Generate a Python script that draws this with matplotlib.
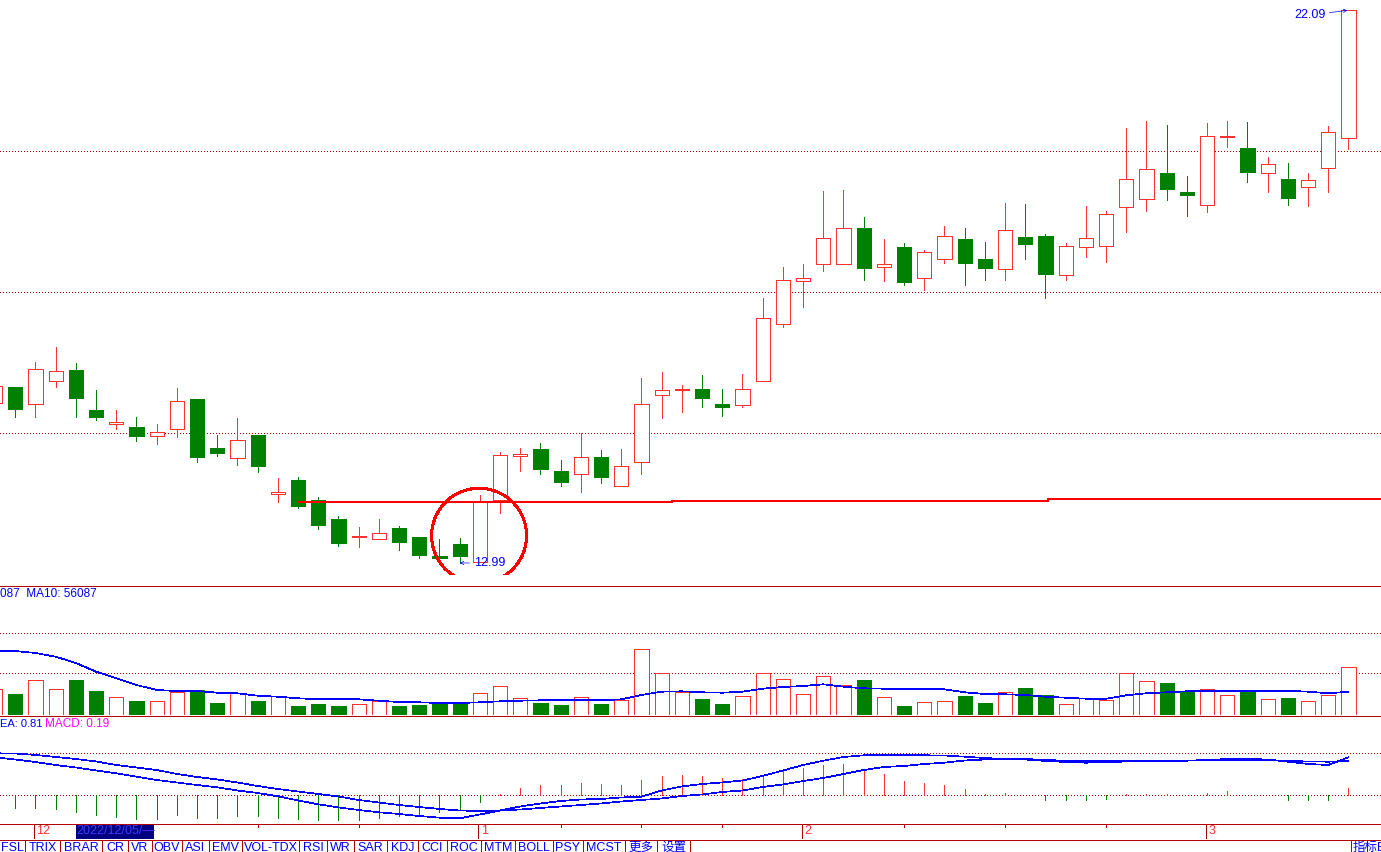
import matplotlib
matplotlib.use('Agg')
import matplotlib.pyplot as plt
from matplotlib.patches import Rectangle, Ellipse
from matplotlib.lines import Line2D

plt.rcParams['font.family'] = ['Liberation Sans', 'Noto Sans CJK SC', 'DejaVu Sans']

# ---- daily bars, 2022/11/29 .. 2023/03/10 ----
open_ = [15.62, 15.89, 15.61, 15.99, 16.17, 15.51, 15.28, 15.23, 15.08, 15.20,
         15.69, 14.88, 14.72, 15.10, 14.13, 14.36, 14.03, 13.71, 13.42, 13.38,
         13.57, 13.42, 13.10, 13.30, 13.01, 14.02, 14.75, 14.87, 14.50, 14.46,
         14.73, 14.26, 14.65, 15.76, 15.84, 15.85, 15.61, 15.59, 15.99, 16.92,
         17.64, 17.91, 17.91, 18.51, 17.87, 18.19, 17.69, 17.99, 18.32, 18.00,
         17.83, 18.36, 18.37, 17.74, 18.20, 18.21, 18.85, 18.99, 19.41, 19.10,
         18.88, 20.00, 19.82, 19.41, 19.31, 19.18, 19.49, 19.98]
high = [16.00, 15.89, 16.30, 16.55, 16.28, 15.84, 15.51, 15.39, 15.28, 15.87,
        15.69, 15.10, 15.38, 15.10, 14.39, 14.41, 14.08, 13.76, 13.58, 13.71,
        13.60, 13.42, 13.38, 13.40, 14.11, 14.82, 14.88, 14.97, 14.69, 15.13,
        14.85, 14.87, 16.04, 16.13, 15.92, 16.09, 15.85, 16.10, 17.35, 17.86,
        17.91, 19.11, 19.13, 18.69, 18.32, 18.26, 18.14, 18.54, 18.51, 18.27,
        18.92, 18.90, 18.41, 18.26, 18.87, 18.79, 20.15, 20.27, 20.20, 19.36,
        20.23, 20.27, 20.25, 19.67, 19.58, 19.41, 20.19, 22.09]
low = [15.54, 15.39, 15.39, 15.89, 15.39, 15.34, 15.20, 15.00, 14.95, 15.06,
       14.65, 14.75, 14.60, 14.49, 13.99, 13.90, 13.55, 13.27, 13.25, 13.38,
       13.20, 13.07, 13.07, 12.99, 13.01, 13.81, 14.50, 14.46, 14.26, 14.16,
       14.31, 14.26, 14.46, 15.38, 15.48, 15.56, 15.41, 15.56, 15.99, 16.88,
       17.21, 17.80, 17.91, 17.65, 17.64, 17.56, 17.49, 17.93, 17.57, 17.65,
       17.65, 18.00, 17.36, 17.65, 18.03, 17.95, 18.44, 18.79, 18.97, 18.71,
       18.77, 19.84, 19.27, 19.10, 18.89, 18.86, 19.10, 19.80]
close = [15.90, 15.53, 16.18, 16.15, 15.71, 15.39, 15.31, 15.08, 15.15, 15.66,
         14.73, 14.80, 15.01, 14.59, 14.16, 13.93, 13.62, 13.32, 13.43, 13.48,
         13.34, 13.12, 13.07, 13.10, 13.99, 14.77, 14.78, 14.54, 14.32, 14.73,
         14.41, 14.59, 15.61, 15.84, 15.85, 15.71, 15.56, 15.85, 17.02, 17.65,
         17.69, 18.34, 18.50, 17.85, 17.92, 17.62, 18.11, 18.37, 17.93, 17.84,
         18.47, 18.25, 17.75, 18.21, 18.34, 18.74, 19.32, 19.47, 19.15, 19.05,
         20.02, 20.02, 19.42, 19.56, 19.00, 19.29, 20.08, 22.09]
volume = [62400, 50400, 83280, 61680, 84000, 57600, 42480, 33600, 32880, 55920,
          60000, 28800, 52080, 33600, 44880, 21600, 26400, 21600, 25680, 33600,
          21600, 24000, 28080, 28080, 52080, 68880, 40080, 28800, 24000, 42480,
          26400, 35280, 157680, 100080, 54480, 38400, 26400, 44880, 100080, 85680,
          49680, 92880, 71280, 84000, 42480, 21600, 30480, 32880, 45600, 28800,
          54480, 64800, 48000, 25680, 40080, 35280, 100080, 80880, 76800, 57600,
          61680, 47280, 57600, 37680, 40800, 32880, 47280, 114480]
vol_ma10 = [154320, 153600, 148800, 139920, 124800, 103920, 88080, 72000, 60000, 57600,
            57600, 53520, 52080, 46320, 43920, 40080, 37680, 37680, 37680, 34320,
            31200, 30480, 28800, 28800, 30480, 32880, 34320, 35280, 35280, 35280,
            35280, 37680, 48000, 55920, 56880, 54480, 53520, 55920, 63120, 67200,
            69600, 73680, 67920, 64080, 63120, 61680, 61680, 61680, 54480, 50400,
            49680, 48000, 43920, 41520, 39120, 39120, 47280, 52080, 54480, 56880,
            58320, 58320, 58320, 58320, 58320, 55920, 52080, 55920]
dif = [0.905, 0.852, 0.793, 0.721, 0.662, 0.590, 0.524, 0.443, 0.364, 0.305,
       0.245, 0.190, 0.114, 0.055, -0.024, -0.124, -0.214, -0.290, -0.350, -0.405,
       -0.445, -0.493, -0.533, -0.548, -0.457, -0.362, -0.267, -0.195, -0.136, -0.100,
       -0.088, -0.052, -0.033, 0.114, 0.210, 0.269, 0.305, 0.352, 0.460, 0.590,
       0.721, 0.824, 0.912, 0.952, 0.952, 0.952, 0.952, 0.948, 0.919, 0.888,
       0.864, 0.852, 0.817, 0.793, 0.776, 0.786, 0.805, 0.824, 0.824, 0.824,
       0.840, 0.864, 0.864, 0.852, 0.800, 0.745, 0.721, 0.905]
dea = [1.000, 0.995, 0.960, 0.912, 0.864, 0.805, 0.721, 0.662, 0.602, 0.507,
       0.436, 0.376, 0.305, 0.221, 0.150, 0.090, 0.031, -0.029, -0.112, -0.171,
       -0.231, -0.279, -0.326, -0.362, -0.374, -0.362, -0.338, -0.302, -0.267, -0.231,
       -0.195, -0.148, -0.112, -0.076, -0.017, 0.019, 0.079, 0.114, 0.198, 0.257,
       0.340, 0.412, 0.507, 0.602, 0.674, 0.698, 0.745, 0.776, 0.829, 0.852,
       0.857, 0.864, 0.840, 0.824, 0.824, 0.824, 0.824, 0.824, 0.824, 0.829,
       0.833, 0.840, 0.840, 0.833, 0.817, 0.805, 0.800, 0.817]
macd = [-0.190, -0.295, -0.295, -0.326, -0.390, -0.469, -0.510, -0.564, -0.564, -0.469,
        -0.533, -0.533, -0.493, -0.493, -0.533, -0.557, -0.588, -0.588, -0.588, -0.533,
        -0.493, -0.445, -0.398, -0.350, -0.160, 0.031, 0.174, 0.245, 0.245, 0.293,
        0.269, 0.245, 0.364, 0.460, 0.483, 0.460, 0.412, 0.381, 0.460, 0.626,
        0.650, 0.721, 0.745, 0.626, 0.507, 0.340, 0.293, 0.245, 0.150, 0.031,
        0.048, -0.005, -0.112, -0.112, -0.112, -0.081, 0.031, 0.031, 0.031, 0.010,
        0.062, 0.102, 0.005, 0.005, -0.112, -0.112, -0.112, 0.181]

month_labels = ['12', '1', '2', '3']
month_first_bar = [2, 24, 40, 60]
date_ticks = [13, 18, 28, 32, 36, 45, 50, 55]
cursor_bar = 4
cursor_text = '2022/12/05/\u2014'

vol_label = '087  MA10: 56087'
dea_label = 'EA: 0.81'
macd_label = 'MACD: 0.19'

tabs = ['FSL', 'TRIX', 'BRAR', 'CR', 'VR', 'OBV', 'ASI', 'EMV', 'VOL-TDX', 'RSI',
        'WR', 'SAR', 'KDJ', 'CCI', 'ROC', 'MTM', 'BOLL', 'PSY', 'MCST', '更多', '设置']
tab_edges = [0, 25, 60, 102, 128, 152, 182, 209, 242, 299, 327, 354, 387, 418,
             447, 481, 515, 553, 583, 625, 657, 690]

price_grid = [19.77, 17.45, 15.13]
vol_grid = [100000, 196000]
macd_grid = [0.0, 1.0]

# drawn on the chart by hand
level_x = [14.95, 33.5, 33.5, 52.1, 52.1, 68.61]
level_y = [14.00, 14.00, 14.016, 14.016, 14.04, 14.04]
circle_center = (23.96, 13.44)
circle_size = (4.70, 1.56)

RED = '#ff3232'
GREEN = '#008000'
BLUE = '#0000ff'
DARK = '#b00000'
PX = 0.72  # one pixel in points
LW = 0.5   # thin non-antialiased line

W, H = 1381, 852
XLIM = (0.243, 68.61)
n = len(close)
x = list(range(n))

fig = plt.figure(figsize=(W / 100, H / 100), dpi=100)


def panel(top, bottom):
    ax = fig.add_axes([0, 1 - bottom / H, 1, (bottom - top) / H])
    ax.set_xlim(*XLIM)
    ax.axis('off')
    return ax


def hline_fig(ypx, color=DARK):
    fig.add_artist(Line2D([0, 1], [1 - ypx / H] * 2, color=color, lw=PX,
                          antialiased=False))


def ftext(xpx, ypx, s, **kw):
    fig.text(xpx / W, 1 - ypx / H, s, **kw)


dots = (0, (1.4, 4.2))
bw = 0.7

# ---- price panel ----
ax = panel(0, 575)
ax.set_ylim(12.792, 22.26)
for g in price_grid:
    ax.axhline(g, color=DARK, lw=LW, ls=dots, antialiased=False, zorder=0)

for i in x:
    o, h, l, c = open_[i], high[i], low[i], close[i]
    if c >= o:
        ax.vlines(i, c, h, color=RED, lw=PX, antialiased=False, zorder=2)
        ax.vlines(i, l, o, color=RED, lw=PX, antialiased=False, zorder=2)
        ax.add_patch(Rectangle((i - bw / 2, o), bw, max(c - o, 0.012), fc='white',
                               ec=RED, lw=PX, antialiased=False, zorder=3))
    else:
        ax.vlines(i, l, h, color=GREEN, lw=PX, antialiased=False, zorder=2)
        ax.add_patch(Rectangle((i - bw / 2, c), bw, max(o - c, 0.012), fc=GREEN,
                               ec=GREEN, lw=PX, antialiased=False, zorder=3))

ax.plot(level_x, level_y, color='#ff0000', lw=2 * PX, antialiased=False,
        zorder=4, solid_capstyle='butt')
ax.add_patch(Ellipse(circle_center, circle_size[0], circle_size[1], fill=False,
                     ec='#ff0000', lw=2 * PX, antialiased=False, zorder=4))

ihi = high.index(max(high))
ilo = low.index(min(low))
ax.annotate(f'{high[ihi]:.2f}', xy=(ihi - 0.05, high[ihi]), xytext=(-16, -3.5),
            textcoords='offset points', ha='right', va='center', color=BLUE,
            fontsize=9, arrowprops=dict(arrowstyle='->', color=BLUE, lw=LW,
                                        shrinkA=1, shrinkB=0, mutation_scale=6))
ax.annotate(f'{low[ilo]:.2f}', xy=(ilo, low[ilo]), xytext=(10, 0),
            textcoords='offset points', ha='left', va='center', color=BLUE,
            fontsize=9, arrowprops=dict(arrowstyle='->', color=BLUE, lw=LW,
                                        shrinkA=1, shrinkB=0, mutation_scale=6))

# ---- volume panel ----
axv = panel(586, 715)
axv.set_ylim(0, 309600)
for g in vol_grid:
    axv.axhline(g, color=DARK, lw=LW, ls=dots, antialiased=False, zorder=0)
for i in x:
    if close[i] >= open_[i]:
        axv.add_patch(Rectangle((i - bw / 2, 0), bw, volume[i], fc='white', ec=RED,
                                lw=PX, antialiased=False, zorder=2))
    else:
        axv.add_patch(Rectangle((i - bw / 2, 0), bw, volume[i], fc=GREEN, ec=GREEN,
                                lw=PX, antialiased=False, zorder=2))
axv.plot(x, vol_ma10, color=BLUE, lw=LW, antialiased=False, zorder=3)

# ---- MACD panel ----
axm = panel(716, 823)
axm.set_ylim(-0.660, 1.888)
for g in macd_grid:
    axm.axhline(g, color=DARK, lw=LW, ls=dots, antialiased=False, zorder=0)
axm.vlines(x, 0, macd, colors=[RED if v > 0 else GREEN for v in macd], lw=PX,
           antialiased=False, zorder=2)
axm.plot(x, dea, color=BLUE, lw=LW, antialiased=False, zorder=3)
axm.plot(x, dif, color=BLUE, lw=LW, antialiased=False, zorder=3)

# ---- date row ----
axd = panel(824, 839)
axd.set_ylim(1, 0)
for lab, b in zip(month_labels, month_first_bar):
    axd.vlines(b - 0.07, 0, 1, color=DARK, lw=PX, antialiased=False)
    axd.text(b + 0.05, 0.5, lab, color=RED, fontsize=9, va='center', ha='left')
axd.vlines(date_ticks, 0, 0.18, color=DARK, lw=PX, antialiased=False)
axd.add_patch(Rectangle((cursor_bar, 0), 3.86, 1, fc='#000080', ec='none'))
axd.text(cursor_bar + 0.02, 0.5, cursor_text, color='#3c3cff', fontsize=9,
         va='center', ha='left')

# ---- indicator tabs ----
axt = fig.add_axes([0, 0, 1, 12 / H])
axt.set_xlim(0, W)
axt.set_ylim(852, 840)
axt.axis('off')
for lab, a, b in zip(tabs, tab_edges[:-1], tab_edges[1:]):
    axt.text((a + b) / 2, 851, lab, color=BLUE, fontsize=9, ha='center',
             va='baseline', clip_on=True)
axt.vlines(tab_edges[1:] + [1351], 840, 852, color=DARK, lw=PX, antialiased=False)
axt.text(1353, 851, '指标E', color=BLUE, fontsize=9, ha='left', va='baseline',
         clip_on=True)

# ---- panel borders and labels ----
for ypx in (585.5, 715.5, 823.5, 839.5):
    hline_fig(ypx)
ftext(0, 594, vol_label, color=BLUE, fontsize=8.5, va='center', ha='left')
ftext(0, 724, dea_label, color=BLUE, fontsize=8, va='center', ha='left')
ftext(45, 724, macd_label, color='#ff00ff', fontsize=8.5, va='center', ha='left')

fig.savefig('out.png', dpi=100, facecolor='white')
